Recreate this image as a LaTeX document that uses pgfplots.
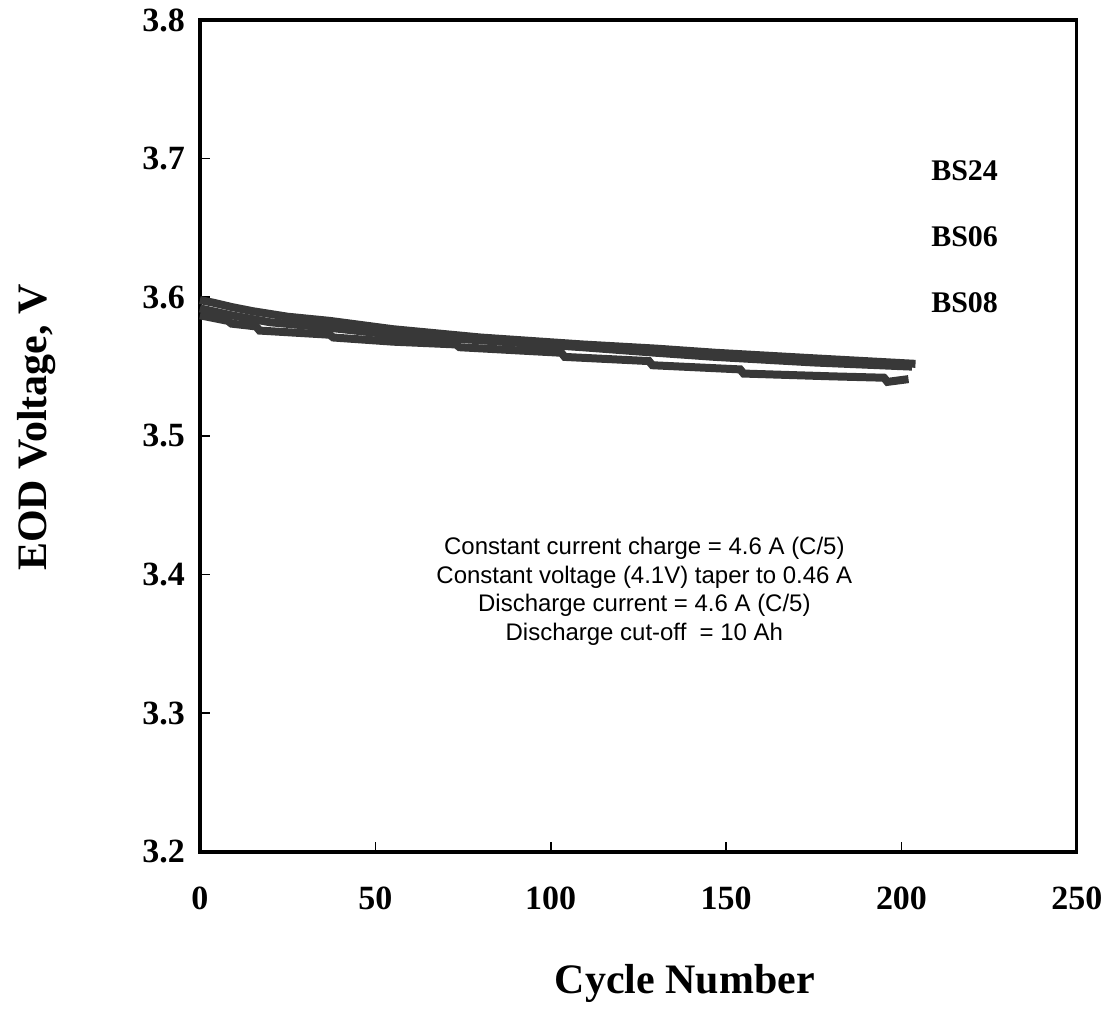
\documentclass[border=0pt]{standalone}
\usepackage{fontspec}
\setmainfont{Liberation Serif}
\newfontfamily\arial{Liberation Sans}
\usepackage{pgfplots}
\pgfplotsset{compat=1.18}

\begin{document}
\begin{tikzpicture}
\begin{axis}[
    scale only axis,
    width=439pt,
    height=416.5pt,
    xmin=0, xmax=250,
    ymin=3.2, ymax=3.8,
    xtick={0,50,100,150,200,250},
    ytick={3.2,3.3,3.4,3.5,3.6,3.7,3.8},
    xtick pos=bottom,
    ytick pos=left,
    tick align=inside,
    major tick length=5pt,
    axis line style={line width=1.6pt},
    every tick/.style={black, line width=0.8pt},
    tick label style={font=\bfseries\fontsize{17}{20}\selectfont},
    /pgf/number format/assume math mode=true,
    yticklabel style={xshift=-4pt, /pgf/number format/fixed, /pgf/number format/fixed zerofill, /pgf/number format/precision=1},
    xticklabel style={yshift=-14pt},
    xlabel={Cycle Number},
    ylabel={EOD Voltage, V},
    label style={font=\bfseries\fontsize{21}{24}\selectfont},
    xlabel style={at={(axis description cs:0.553,-0.158)}, anchor=center},
    ylabel style={at={(axis description cs:-0.186,0.51)}, anchor=center},
    clip=false,
]
% BS24
\addplot[black!78, line width=4pt] coordinates {
    (0,3.598) (4,3.596) (9,3.593) (15,3.590) (25,3.586) (37,3.583) (55,3.577)
    (80,3.571) (109,3.566) (130,3.563) (147,3.560) (175,3.556) (204,3.552)
};
% BS06
\addplot[black!78, line width=4pt] coordinates {
    (0,3.592) (9,3.587) (20,3.582) (37,3.578) (55,3.573) (80,3.569) (109,3.564)
    (130,3.560) (147,3.557) (175,3.553) (203,3.550)
};
% BS08
\addplot[black!78, line width=4pt] coordinates {
    (0,3.587) (8,3.583) (9,3.581) (16,3.579) (17,3.576) (37,3.573) (38,3.571)
    (55,3.568) (73,3.566) (74,3.564) (103,3.560) (104,3.557) (128,3.554) (129,3.551)
    (154,3.548) (155,3.545) (180,3.543) (195,3.542) (196,3.539) (202,3.541)
};

\node[anchor=west, font=\bfseries\fontsize{15}{18}\selectfont] at (axis cs:206.5,3.691) {BS24};
\node[anchor=west, font=\bfseries\fontsize{15}{18}\selectfont] at (axis cs:206.5,3.644) {BS06};
\node[anchor=west, font=\bfseries\fontsize{15}{18}\selectfont] at (axis cs:206.5,3.596) {BS08};

\node[align=center, font=\arial\fontsize{12}{14.25}\selectfont] at (axis cs:126.7,3.388)
    {Constant current charge = 4.6 A (C/5)\\
     Constant voltage (4.1V) taper to 0.46 A\\
     Discharge current = 4.6 A (C/5)\\
     Discharge cut-off\ \ = 10 Ah};

% page margins as in the scanned figure
\path (axis description cs:-0.228,-0.211) (axis description cs:1.035,1.024);
\end{axis}
\end{tikzpicture}
\end{document}
